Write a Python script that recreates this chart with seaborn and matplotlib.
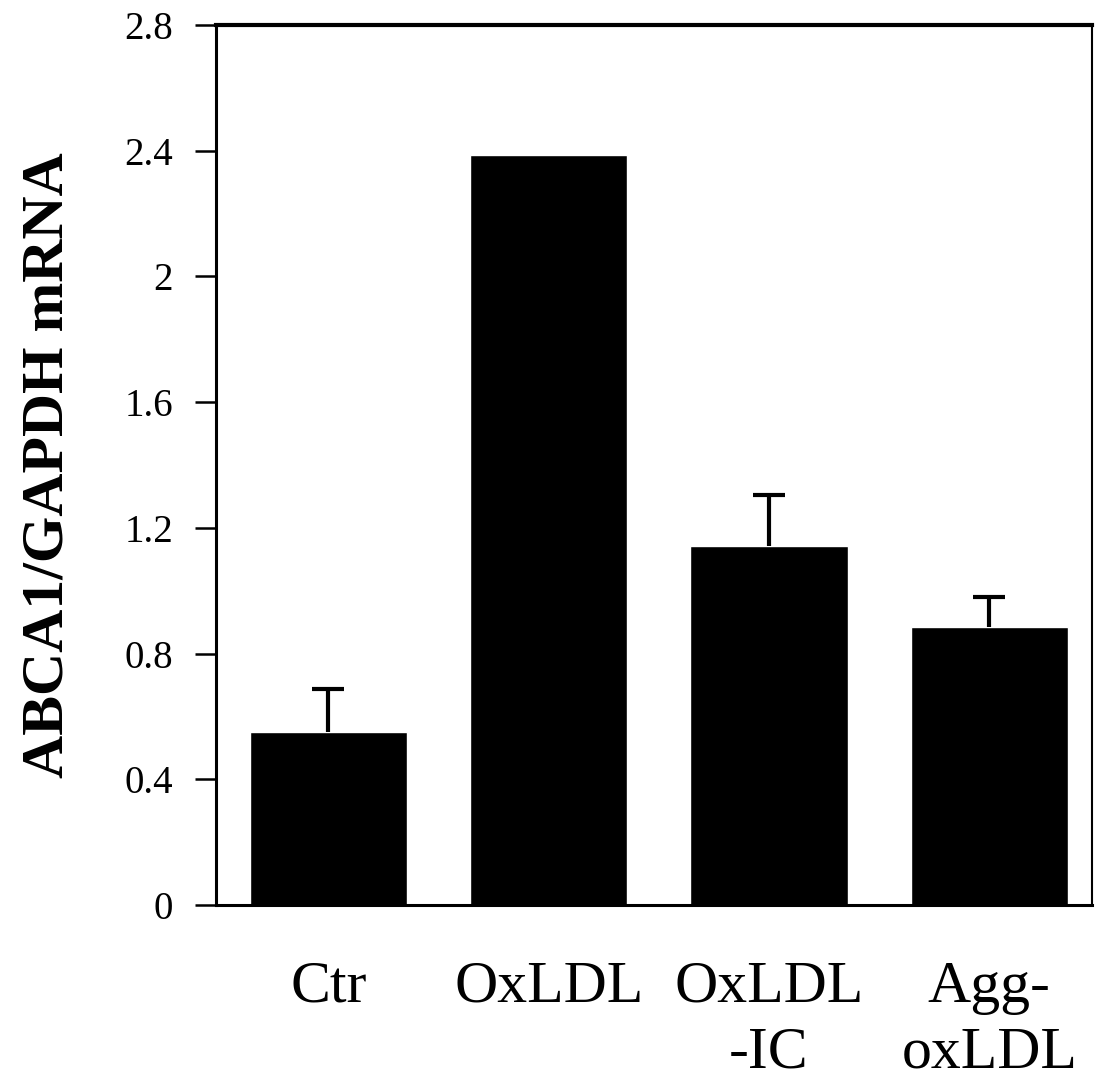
import numpy as np
import pandas as pd
import matplotlib
matplotlib.use("Agg")
import matplotlib.pyplot as plt
import seaborn as sns

# values
groups = ["Ctr", "OxLDL", "OxLDL\n-IC", "Agg-\noxLDL"]
ratio = [0.551, 2.386, 1.142, 0.886]
err_up = [0.135, 0.0, 0.163, 0.095]
yticks = [0, 0.4, 0.8, 1.2, 1.6, 2.0, 2.4, 2.8]
ytick_labels = ["0", "0.4", "0.8", "1.2", "1.6", "2", "2.4", "2.8"]

sns.set_style("ticks")
plt.rcParams["font.family"] = ["Liberation Serif", "DejaVu Serif"]
plt.rcParams["text.color"] = "black"
plt.rcParams["axes.labelcolor"] = "black"
plt.rcParams["xtick.color"] = "black"
plt.rcParams["ytick.color"] = "black"

df = pd.DataFrame({"group": groups, "ratio": ratio})

fig = plt.figure(figsize=(10.97, 10.86), dpi=100)
ax = fig.add_axes([0.197, 0.1667, 0.7984, 0.8103])

sns.barplot(data=df, x="group", y="ratio", color="black", saturation=1,
            width=0.713, errorbar=None, ax=ax)

# upper-only error bars (OxLDL has none visible)
pos = np.arange(len(groups))
mask = np.array(err_up) > 0
vals = np.array(ratio)[mask]
eb = ax.errorbar(pos[mask], vals,
                 yerr=[np.zeros(mask.sum()), np.array(err_up)[mask]],
                 fmt="none", ecolor="black", elinewidth=3.0, capsize=11.5, capthick=3.0)
# hide the caps that sit on the bar tops
for cap in eb[1]:
    if np.allclose(cap.get_ydata(), vals):
        cap.set_visible(False)

ax.set_xlim(-0.51, 3.466)
ax.set_ylim(0, 2.8)
ax.set_yticks(yticks)
ax.set_yticklabels(ytick_labels, fontsize=28)
ax.set_xticks(pos)
ax.set_xticklabels(groups, fontsize=43, linespacing=1.3)
ax.tick_params(axis="x", length=0, pad=40)
ax.tick_params(axis="y", direction="out", length=15, width=1.8, pad=16)

ax.set_xlabel("")
ax.set_ylabel("ABCA1/GAPDH mRNA", fontsize=43, fontweight="bold")
ax.yaxis.set_label_coords(-0.16, 0.5)

for side in ["left", "bottom"]:
    ax.spines[side].set_linewidth(2.2)
ax.spines["top"].set_linewidth(3.0)
ax.spines["right"].set_linewidth(1.5)
for sp in ax.spines.values():
    sp.set_color("black")
    sp.set_visible(True)

fig.savefig("out.png", dpi=100)
